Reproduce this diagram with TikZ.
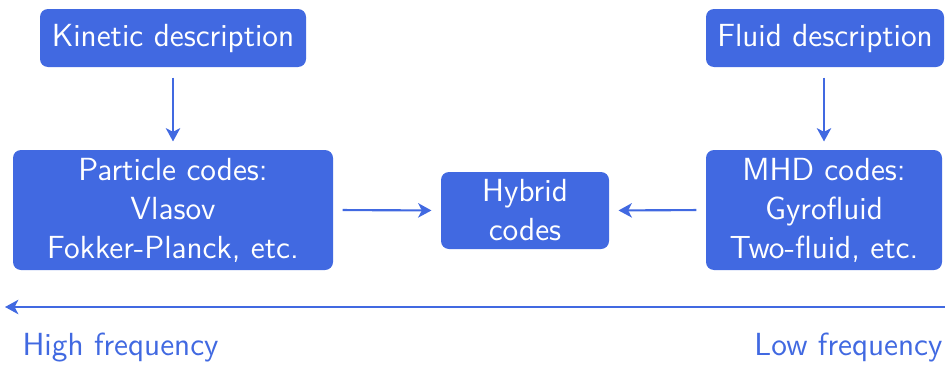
\documentclass[tikz,border=0pt]{standalone}
\usepackage{fontspec}
\usetikzlibrary{arrows.meta}
\definecolor{rblue}{RGB}{65,105,225}
\begin{document}
\begin{tikzpicture}[x=0.375pt,y=-0.375pt,
  font=\sffamily\fontsize{12}{14.6}\selectfont,
  box/.style={fill=rblue,text=white,rounded corners=3pt,align=center,inner sep=0pt},
  conn/.style={draw=rblue,line width=0.8pt,-{Stealth[length=5pt,width=5.4pt,inset=1.4pt]}},
  lbl/.style={text=rblue,inner sep=0pt}]
\useasboundingbox (0,0) rectangle (945,364);
\node[box,minimum width=266*0.375pt,minimum height=58*0.375pt] (kin) at (173,38) {Kinetic description};
\node[box,minimum width=238*0.375pt,minimum height=58*0.375pt] (flu) at (825,38) {Fluid description};
\node[box,minimum width=320*0.375pt,minimum height=120*0.375pt] (par) at (173,210) {Particle codes:\\Vlasov\\Fokker-Planck, etc.};
\node[box,minimum width=168*0.375pt,minimum height=77*0.375pt] (hyb) at (525,210.5) {Hybrid\\codes};
\node[box,minimum width=236*0.375pt,minimum height=120*0.375pt] (mhd) at (824,210) {MHD codes:\\Gyrofluid\\Two-fluid, etc.};
\draw[conn,shorten <=10*0.375pt,shorten >=8*0.375pt] (kin.south) -- (par.north);
\draw[conn,shorten <=10*0.375pt,shorten >=8*0.375pt] (flu.south -| mhd.north) -- (mhd.north);
\draw[conn,shorten <=9*0.375pt,shorten >=9*0.375pt] (par.east) -- (hyb.west);
\draw[conn,shorten <=9*0.375pt,shorten >=9*0.375pt] (mhd.west) -- (hyb.east);
\coordinate (lo) at (948,307);
\coordinate (hi) at (5,307);
\draw[conn] (lo) -- (hi);
\node[lbl,anchor=base west] (hf) at (22,355) {High frequency};
\node[lbl,anchor=base east] (lf) at (943,355) {Low frequency};
\end{tikzpicture}
\end{document}
